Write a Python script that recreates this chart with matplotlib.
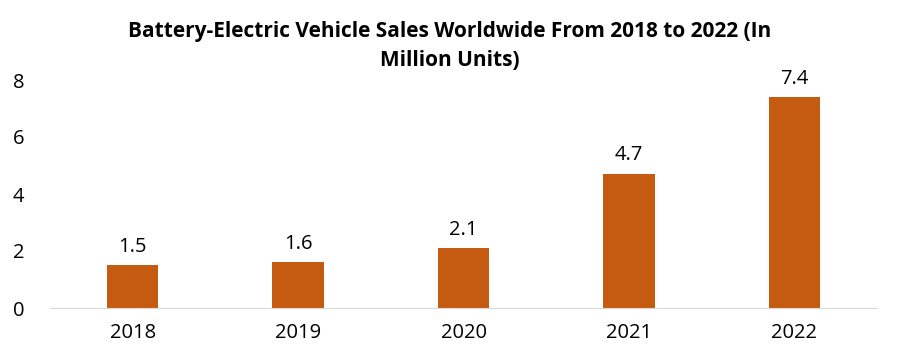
import matplotlib.pyplot as plt

years = ["2018", "2019", "2020", "2021", "2022"]
sales = [1.5, 1.6, 2.1, 4.7, 7.4]

plt.rcParams['font.family'] = ['Open Sans', 'DejaVu Sans']

fig = plt.figure(figsize=(9, 3.59), dpi=100)
ax = fig.add_axes([50 / 900, 1 - 308 / 359, 827 / 900, 228 / 359])

x = range(len(years))
bars = ax.bar(x, sales, width=0.31, color='#C55A11')
for b, v in zip(bars, sales):
    ax.text(b.get_x() + b.get_width() / 2, v + 0.3, f"{v}", ha='center', va='bottom', fontsize=14.5)

ax.set_xlim(-0.5, len(years) - 0.5)
ax.set_ylim(0, 8)
ax.set_yticks([0, 2, 4, 6, 8])
ax.set_xticks(list(x))
ax.set_xticklabels(years)
ax.tick_params(axis='both', length=0, labelsize=14.5)
ax.tick_params(axis='y', pad=27)
ax.tick_params(axis='x', pad=11)
for side in ['top', 'right', 'left']:
    ax.spines[side].set_visible(False)
ax.spines['bottom'].set_color('#d9d9d9')
for lbl in ax.get_yticklabels():
    lbl.set_horizontalalignment('left')

fig.text(0.5, 1 - 46 / 359,
         "Battery-Electric Vehicle Sales Worldwide From 2018 to 2022 (In\nMillion Units)",
         ha='center', va='center', fontsize=15, fontweight='bold', linespacing=1.5)

fig.savefig("out.png", dpi=100)
